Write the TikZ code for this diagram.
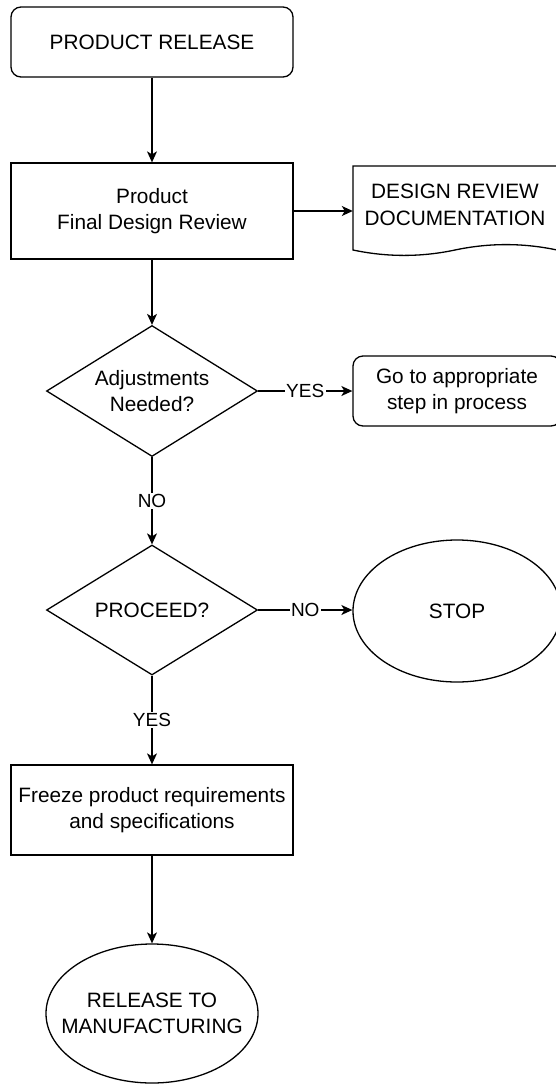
\documentclass[tikz,border=0pt]{standalone}
\usepackage{fontspec}
\setmainfont{Liberation Sans}
\usetikzlibrary{shapes.geometric,arrows.meta}
\begin{document}
\begin{tikzpicture}[x=1pt,y=-1pt,
  every node/.style={font=\fontsize{20.8}{26.5}\selectfont, align=center, inner sep=0pt},
  shp/.style={draw, line width=1.3pt},
  procbox/.style={shp, rectangle, minimum width=282pt, minimum height=92pt},
  termbox/.style={shp, rectangle, rounded corners=10pt},
  decision/.style={shp, diamond, aspect=1.61, minimum width=211pt, minimum height=131pt},
  oval/.style={shp, ellipse, inner xsep=-26pt},
  arr/.style={line width=1.3pt, -{Stealth[length=11pt,width=10pt,inset=3pt]}},
  lbl/.style={fill=white, inner sep=1.5pt, font=\fontsize{19}{22}\selectfont}
]
\useasboundingbox (0,0) rectangle (555,1085);

\node[termbox, minimum width=282pt, minimum height=70pt] (start) at (152,42) {PRODUCT RELEASE};
\node[procbox, minimum height=96pt] (review) at (152,211) {Product\\Final Design Review};

% document shape
\node[minimum width=204pt, minimum height=90pt] (doc) at (455,211) {};
\draw[line width=1.3pt] (353,166) -- (557,166) -- (557,250)
   .. controls (523,242.8) and (489,242.8) .. (455,250)
   .. controls (421,257.2) and (387,257.2) .. (353,250) -- cycle;
\node (doctext) at (455,205) {DESIGN REVIEW\\DOCUMENTATION};

\node[decision] (adj) at (152,391) {Adjustments\\Needed?};
\node[termbox, minimum width=208pt, minimum height=70pt] (goto) at (457,391) {Go to appropriate\\step in process};

\node[decision, minimum height=130pt] (proc) at (152,610) {PROCEED?};
\node[oval, minimum width=208pt, minimum height=142pt] (stop) at (457,611) {STOP};

\node[procbox, minimum height=90pt] (freeze) at (152,810) {Freeze product requirements\\and specifications};
\node[oval, minimum width=212pt, minimum height=139pt] (rel) at (152,1013.5) {RELEASE TO\\MANUFACTURING};

\draw[arr] (start) -- (review);
\draw[arr] (review.east) -- (review.east -| doc.west);
\draw[arr] (review) -- (adj);
\draw[arr] (adj.east) -- node[lbl] (lyes1) {YES} (adj.east -| goto.west);
\draw[arr] (adj) -- node[lbl] (lno1) {NO} (proc);
\draw[arr] (proc.east) -- node[lbl] (lno2) {NO} (proc.east -| stop.west);
\draw[arr] (proc) -- node[lbl] (lyes2) {YES} (freeze);
\draw[arr] (freeze) -- (rel);
\end{tikzpicture}
\end{document}
